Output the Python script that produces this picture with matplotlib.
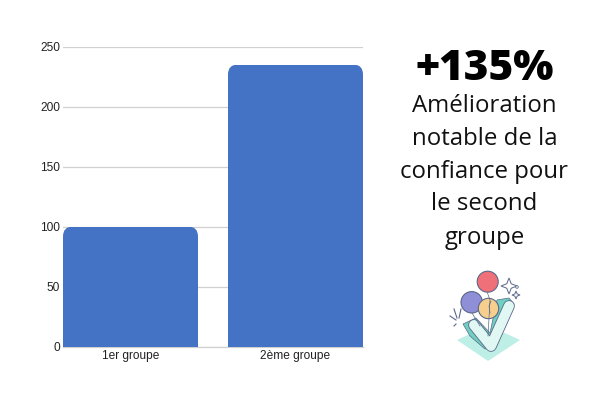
import matplotlib
matplotlib.use('Agg')
import matplotlib.pyplot as plt
from matplotlib.patches import FancyBboxPatch, Circle, Polygon

categories = ['1er groupe', '2ème groupe']
values = [100, 235]
y_ticks = [0, 50, 100, 150, 200, 250]
headline = '+135%'
message = ['Amélioration', 'notable de la', 'confiance pour', 'le second', 'groupe']
message_y = [106.5, 139, 171.5, 204.5, 237.5]

BLUE = '#4472C4'
GRID = '#D0D0D0'
OUTLINE = '#5A6888'

fig = plt.figure(figsize=(6, 4), dpi=100)
ax = fig.add_axes([63 / 600, 1 - 346.5 / 400, 300 / 600, 300 / 400])

# bars with rounded tops: clip each one with a rounded box
bars = ax.bar(range(len(values)), values, width=135 / 165, color=BLUE, zorder=3)
ax.set_xlim(-135 / 330, 1 + 135 / 330)
ax.set_ylim(0, 250)
for bar in bars:
    clip = FancyBboxPatch((bar.get_x(), -30), bar.get_width(), bar.get_height() + 30,
                          boxstyle='round,pad=0,rounding_size=0.06',
                          mutation_aspect=138, transform=ax.transData)
    bar.set_clip_path(clip)

ax.set_yticks(y_ticks)
ax.set_xticks(range(len(categories)))
ax.set_xticklabels(categories)
ax.grid(axis='y', color=GRID, linewidth=0.9, zorder=0)
ax.set_axisbelow(True)
for name in ['top', 'right', 'left']:
    ax.spines[name].set_visible(False)
ax.spines['bottom'].set_color(GRID)
ax.spines['bottom'].set_linewidth(0.9)
ax.tick_params(axis='both', length=0, labelsize=8.6, labelcolor='#222222', labelfontfamily='Liberation Sans')
ax.tick_params(axis='y', pad=2.2)
ax.tick_params(axis='x', pad=2.4)

# overlay in pixel coordinates for the text and the illustration
over = fig.add_axes([0, 0, 1, 1], facecolor='none')
over.set_xlim(0, 600)
over.set_ylim(400, 0)
over.axis('off')

over.text(484.5, 69, headline, ha='center', va='center', fontsize=30.5, fontweight=800,
          family='Open Sans', color='black')
for line, y in zip(message, message_y):
    over.text(484.5, y, line, ha='center', va='center', fontsize=17.3, family='Open Sans', color='#111111')

# illustration
over.add_patch(Polygon([(457, 340), (472, 333), (505, 333), (520, 340), (488, 361)], closed=True, color='#BDEFE6', lw=0))
over.add_patch(Polygon([(463, 324), (476, 318), (490, 333), (497, 300), (509, 298), (514, 304), (495, 345),
                        (485, 349), (470, 336)], closed=True, facecolor='#6FCFC0', edgecolor=OUTLINE, lw=0.5))
over.plot([474, 491, 509], [325, 346, 306], color=OUTLINE, lw=8.4, solid_capstyle='round', solid_joinstyle='round')
over.plot([474, 491, 509], [325, 346, 306], color='#E0F7F3', lw=7.2, solid_capstyle='round', solid_joinstyle='round')
over.plot([487.5, 490, 488], [293, 300, 336], color=OUTLINE, lw=0.5)
over.plot([472, 480], [313, 326], color=OUTLINE, lw=0.5)
for x, y, r, c in [(487.7, 281.7, 10.5, '#F0707A'), (471.7, 302.3, 10.7, '#8F8FD8'), (488.5, 308.5, 10.2, '#F6CF8E')]:
    over.add_patch(Circle((x, y), r, facecolor=c, edgecolor=OUTLINE, lw=0.8))
over.plot([491, 489, 490], [301, 306, 313], color=OUTLINE, lw=0.5)


def star(x, y, s):
    k = s * 0.28
    return [(x, y - s), (x + k, y - k), (x + s, y), (x + k, y + k), (x, y + s), (x - k, y + k), (x - s, y), (x - k, y - k)]


over.add_patch(Polygon(star(509, 286, 8), closed=True, facecolor='white', edgecolor=OUTLINE, lw=0.7))
over.add_patch(Polygon(star(516, 295, 4), closed=True, facecolor='white', edgecolor=OUTLINE, lw=0.7))
over.add_patch(Circle((517, 287), 1.3, facecolor='white', edgecolor=OUTLINE, lw=0.6))
over.plot([454, 457], [309, 318], color=OUTLINE, lw=0.8)
over.plot([461, 459], [309, 318], color=OUTLINE, lw=0.8)
over.plot([450, 456], [316, 320], color=OUTLINE, lw=0.8)
over.plot([456, 454], [324, 326], color=OUTLINE, lw=0.8)

fig.savefig('out.png', dpi=100)
